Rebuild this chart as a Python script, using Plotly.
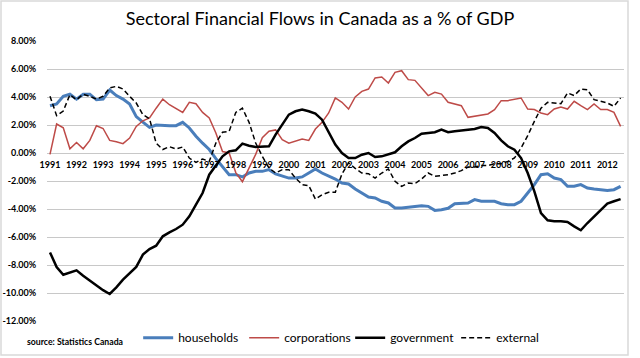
import plotly.graph_objects as go

start_year = 1991
years = list(range(1991, 2013))
y_ticks = [8, 6, 4, 2, 0, -2, -4, -6, -8, -10, -12]
y_tick_labels = ["8.00%", "6.00%", "4.00%", "2.00%", "0.00%", "-2.00%", "-4.00%",
                 "-6.00%", "-8.00%", "-10.00%", "-12.00%"]

households = [3.38, 3.5, 4.05, 4.2, 3.85, 4.2, 4.2, 3.8, 3.85, 4.5, 4.1, 3.85, 3.5, 2.6, 2.2, 1.83,
              2.0, 1.95, 1.95, 1.95, 2.19, 1.79, 1.2, 0.7, 0.25, -0.4, -1.0, -1.55, -1.55, -1.71,
              -1.43, -1.31, -1.31, -1.19, -1.5, -1.62, -1.79, -1.79, -1.71, -1.43, -1.14, -1.43,
              -1.62, -1.86, -2.14, -2.21, -2.57, -2.86, -3.14, -3.21, -3.45, -3.57, -3.93, -3.93,
              -3.86, -3.81, -3.76, -3.81, -4.1, -4.05, -3.95, -3.62, -3.62, -3.57, -3.33, -3.45,
              -3.45, -3.45, -3.62, -3.69, -3.69, -3.45, -2.86, -2.26, -1.55, -1.48, -1.79, -1.9,
              -2.38, -2.38, -2.26, -2.5, -2.57, -2.62, -2.67, -2.62, -2.38]

corporations = [-0.1, 2.07, 1.8, 0.3, 0.75, 0.3, 0.9, 1.95, 1.75, 0.9, 0.8, 0.67, 1.07, 1.9, 2.3,
                2.5, 3.2, 3.85, 3.45, 3.2, 2.9, 3.62, 3.52, 2.9, 2.5, 1.43, 0.1, 0.0, -1.4, -2.05,
                -1.1, -0.1, 1.1, 1.55, 1.65, 0.95, 0.7, 0.83, 1.0, 0.9, 1.71, 2.19, 2.86, 3.93,
                3.62, 3.14, 4.0, 4.4, 4.57, 5.36, 5.43, 5.0, 5.76, 5.88, 5.24, 5.19, 4.64, 4.1,
                4.33, 4.21, 3.62, 3.5, 3.38, 2.55, 2.62, 2.74, 2.79, 3.1, 3.74, 3.74, 3.86, 3.93,
                3.14, 3.1, 2.86, 2.74, 3.14, 3.29, 3.14, 3.69, 3.38, 3.1, 3.5, 3.1, 3.1, 2.9, 1.9]

government = [-7.1, -8.14, -8.7, -8.52, -8.38, -8.76, -9.1, -9.48, -9.8, -10.07, -9.6, -9.05,
              -8.57, -8.14, -7.26, -6.86, -6.62, -5.95, -5.67, -5.43, -5.12, -4.52, -3.69, -2.86,
              -1.55, -0.9, -0.24, 0.12, 0.19, 0.67, 0.52, 0.43, 0.48, 0.48, 1.31, 2.02, 2.74,
              2.98, 3.1, 2.98, 2.81, 2.38, 1.48, 0.6, 0.0, -0.36, -0.36, -0.12, 0.0, -0.29, -0.24,
              -0.12, 0.05, 0.48, 0.83, 1.07, 1.38, 1.43, 1.48, 1.67, 1.48, 1.55, 1.6, 1.62, 1.71,
              1.86, 1.79, 1.43, 0.9, 0.48, 0.24, -0.36, -1.43, -2.74, -4.29, -4.81, -4.88, -4.88,
              -4.93, -5.24, -5.52, -5.0, -4.52, -4.05, -3.62, -3.45, -3.29]

external = [4.05, 2.67, 3.0, 4.17, 3.8, 4.2, 4.05, 3.85, 4.05, 4.65, 4.76, 4.57, 4.05, 3.57, 2.74,
            2.45, 0.7, 0.25, 0.45, 0.29, 0.43, -0.36, -0.67, -0.43, -0.6, 0.71, 1.48, 1.55, 2.9,
            3.2, 2.19, 0.71, -0.24, -1.07, -1.43, -1.19, -1.19, -1.79, -2.26, -2.33, -3.29, -2.98,
            -2.81, -2.81, -1.5, -0.7, -1.1, -1.43, -1.48, -1.79, -1.43, -1.14, -2.02, -2.38,
            -2.14, -2.19, -1.86, -1.43, -1.67, -1.62, -1.55, -1.43, -1.26, -1.0, -1.0, -0.9,
            -0.9, -0.76, -0.76, -0.6, -0.36, 0.36, 1.24, 2.26, 3.2, 3.62, 3.57, 3.52, 4.29, 4.1,
            4.57, 4.52, 3.81, 3.69, 3.57, 3.33, 3.93]

quarters = [start_year + i / 4 for i in range(len(households))]

FONT = "Lato"
fig = go.Figure()
fig.add_trace(go.Scatter(x=quarters, y=households, name="households", mode="lines",
                         line=dict(color="#4A7EBB", width=3)))
fig.add_trace(go.Scatter(x=quarters, y=corporations, name="corporations", mode="lines",
                         line=dict(color="#BE4B48", width=1.5)))
fig.add_trace(go.Scatter(x=quarters, y=government, name="government", mode="lines",
                         line=dict(color="#000000", width=2.5)))
fig.add_trace(go.Scatter(x=quarters, y=external, name="external", mode="lines",
                         line=dict(color="#000000", width=1.5, dash="5px,3px")))

fig.update_layout(
    width=640, height=358,
    margin=dict(l=47, r=16, t=41, b=37, autoexpand=False),
    paper_bgcolor="white", plot_bgcolor="white",
    title=dict(text="Sectoral Financial Flows in Canada as a % of GDP",
               font=dict(family=FONT, size=18, color="#000000"),
               x=0.5, xanchor="center", y=1 - 19 / 358,
               yanchor="middle", yref="container"),
    xaxis=dict(range=[1990.887, 2012.628], tickvals=years, ticktext=[str(y) for y in years],
               anchor="free", position=0.6, showgrid=False, zeroline=False, showline=False,
               automargin=False,
               ticks="outside", ticklen=3, tickcolor="rgba(0,0,0,0)",
               tickfont=dict(family=FONT, size=9, color="#000000", weight="bold")),
    yaxis=dict(range=[-12, 8], tickvals=y_ticks, ticktext=y_tick_labels,
               showgrid=True, gridcolor="#C8C8C8", gridwidth=1, zeroline=False, showline=False,
               automargin=False,
               ticks="outside", ticklen=8, tickcolor="rgba(0,0,0,0)",
               tickfont=dict(family=FONT, size=9, color="#000000", weight="bold")),
    legend=dict(orientation="h", x=0.158, xanchor="left", y=-0.06, yanchor="middle",
                font=dict(family=FONT, size=12, color="#000000"),
                entrywidth=61, entrywidthmode="pixels", bgcolor="rgba(0,0,0,0)"),
    showlegend=True,
)
fig.add_annotation(text="source: Statistics Canada", xref="paper", yref="paper",
                   x=-22 / 577, y=-0.073, xanchor="left", yanchor="middle", showarrow=False,
                   font=dict(family=FONT, size=8.7, color="#000000", weight="bold"))
fig.add_shape(type="rect", xref="paper", yref="paper",
              x0=-46 / 577, x1=(628 - 47) / 577, y0=-34 / 280, y1=1 + 40 / 280,
              line=dict(color="#D9D9D9", width=1.5))

fig.write_html("out.html", config={"displayModeBar": False},
               post_script="document.body.style.margin='0px';")
